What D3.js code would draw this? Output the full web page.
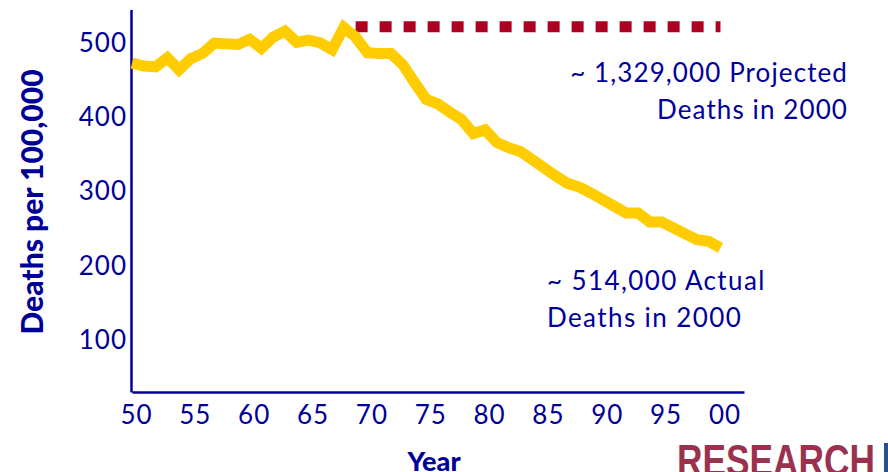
<!DOCTYPE html>
<html><head><meta charset="utf-8">
<script src="https://cdn.jsdelivr.net/npm/d3@7"></script>
<style>
html,body{margin:0;padding:0;background:#fff;}
svg{display:block;}
</style></head>
<body>
<svg id="chart" width="888" height="472"></svg>
<script>
// ---- data ----
const years = [1950,1951,1952,1953,1954,1955,1956,1957,1958,1959,
               1960,1961,1962,1963,1964,1965,1966,1967,1968,1969,
               1970,1971,1972,1973,1974,1975,1976,1977,1978,1979,
               1980,1981,1982,1983,1984,1985,1986,1987,1988,1989,
               1990,1991,1992,1993,1994,1995,1996,1997,1998,1999,2000];
const actualDeaths = [473,469,468,480,464,479,486,500,499,498,
                      505,493,508,516,501,504,500,491,521,508,
                      487,486,486,471,447,424,418,407,397,378,
                      383,366,359,354,343,332,321,311,306,298,
                      289,280,271,271,259,259,251,243,235,233,224];
const projectedYears = [1969, 2000];
const projectedDeaths = [522, 522];
const yTicks = [100, 200, 300, 400, 500];
const xTicks = [1950,1955,1960,1965,1970,1975,1980,1985,1990,1995,2000];
const yTitle = "Deaths per 100,000";
const xTitle = "Year";
const noteProjected = ["~ 1,329,000 Projected", "Deaths in 2000"];
const noteActual = ["~ 514,000 Actual", "Deaths in 2000"];

// ---- layout ----
const BLUE = "#000099";
const FONT = "Lato, 'Open Sans', sans-serif";
const svg = d3.select("#chart");

const x = d3.scaleLinear().domain([1950, 2002]).range([132, 744]);
const y = d3.scaleLinear().domain([30, 545]).range([392, 9.6]);

// axes
const xAxis = svg.append("g")
  .attr("transform", `translate(0,${y(30)})`)
  .call(d3.axisBottom(x).tickValues(xTicks).tickSize(0).tickSizeOuter(0).tickPadding(14)
        .tickFormat(d => String(d % 100).padStart(2, "0")));
xAxis.selectAll(".tick text").attr("dx", 4);
const yAxis = svg.append("g")
  .attr("transform", `translate(131,0)`)
  .call(d3.axisLeft(y).tickValues(yTicks).tickSize(0).tickSizeOuter(0).tickPadding(4));

[xAxis, yAxis].forEach(g => {
  g.select(".domain").attr("stroke", BLUE).attr("stroke-width", 2.5);
  g.selectAll("text").attr("fill", BLUE).attr("font-family", FONT)
    .attr("font-size", 26).attr("letter-spacing", 1);
});

// axis titles
svg.append("text")
  .attr("transform", "translate(43,202) rotate(-90)")
  .attr("text-anchor", "middle")
  .attr("fill", BLUE).attr("font-family", FONT).attr("font-weight", 900)
  .attr("font-size", 30).text(yTitle);
svg.append("text")
  .attr("x", 434).attr("y", 471)
  .attr("text-anchor", "middle")
  .attr("fill", BLUE).attr("font-family", FONT).attr("font-weight", 900)
  .attr("font-size", 27).text(xTitle);

// projected line
const line = d3.line().x(d => x(d[0])).y(d => y(d[1]));
svg.append("path")
  .datum(projectedYears.map((yr, i) => [yr, projectedDeaths[i]]))
  .attr("d", line)
  .attr("fill", "none").attr("stroke", "#AD0020")
  .attr("stroke-width", 11).attr("stroke-dasharray", "12,12");

// actual line
svg.append("path")
  .datum(years.map((yr, i) => [yr, actualDeaths[i]]))
  .attr("d", line)
  .attr("fill", "none").attr("stroke", "#FFCC00")
  .attr("stroke-width", 11).attr("stroke-linejoin", "miter");

// annotations
svg.append("text").attr("text-anchor", "end")
  .attr("fill", BLUE).attr("font-family", FONT).attr("font-size", 26)
  .attr("letter-spacing", 1.1)
  .selectAll("tspan").data(noteProjected).join("tspan")
  .attr("x", 848).attr("y", (d, i) => 82 + i * 37).text(d => d);
svg.append("text").attr("text-anchor", "start")
  .attr("fill", BLUE).attr("font-family", FONT).attr("font-size", 26)
  .attr("letter-spacing", 1.4)
  .selectAll("tspan").data(noteActual).join("tspan")
  .attr("x", 547).attr("y", (d, i) => 290 + i * 37).text(d => d);

// logo fragment
svg.append("text")
  .attr("x", 677).attr("y", 476)
  .attr("fill", "#8E1B3C").attr("font-family", "'Liberation Sans Narrow', 'Liberation Sans', sans-serif")
  .attr("font-weight", 700).attr("font-size", 44)
  .attr("textLength", 198).attr("lengthAdjust", "spacingAndGlyphs")
  .attr("opacity", 0.9)
  .text("RESEARCH");
svg.append("rect").attr("x", 884).attr("y", 443).attr("width", 4).attr("height", 29).attr("fill", "#2a4f8f");
</script>
</body></html>
